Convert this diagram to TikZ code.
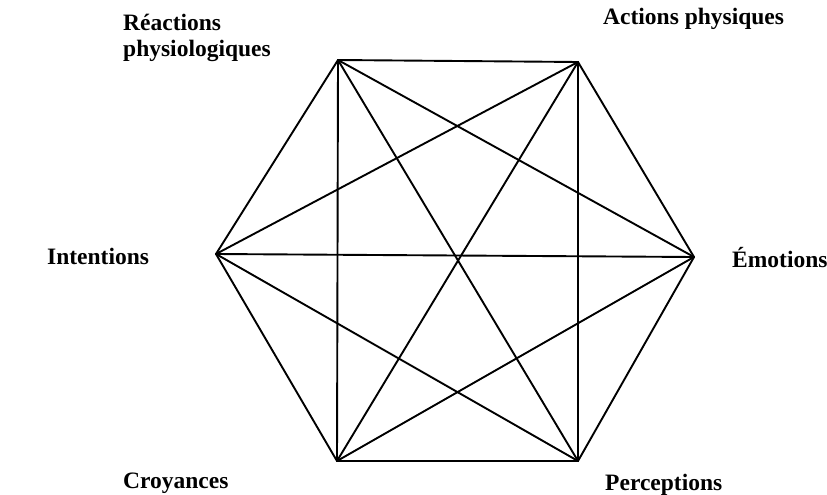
\documentclass[tikz,border=0pt]{standalone}
\usepackage{fontspec}
\setmainfont{Liberation Serif}
\begin{document}
\begin{tikzpicture}[x=1pt,y=-1pt,
  edge/.style={line width=1.9pt, line cap=round, line join=round},
  lbl/.style={font=\fontsize{23.5}{27}\selectfont\bfseries, inner sep=0pt, anchor=base west, align=left}]
\useasboundingbox (0,0) rectangle (827,495);
\coordinate (TL) at (338,60);
\coordinate (TR) at (578,62);
\coordinate (R) at (694,257);
\coordinate (BR) at (578,461);
\coordinate (BL) at (337,461);
\coordinate (L) at (216,254);
% hexagon
\draw[edge] (TL) -- (TR) -- (R) -- (BR) -- (BL) -- (L) -- cycle;
% diagonals
\foreach \a/\b in {TL/R, TL/BR, TL/BL, TR/BR, TR/BL, TR/L, R/BL, R/L, BR/L} {
  \draw[edge] (\a) -- (\b);
}
\node[lbl] (reac) at (123,57) {Réactions\\physiologiques};
\node[lbl] (act) at (603,25) {Actions physiques};
\node[lbl] (int) at (47,264) {Intentions};
\node[lbl] (emo) at (732,267) {Émotions};
\node[lbl] (cro) at (123,488) {Croyances};
\node[lbl] (per) at (605,490) {Perceptions};
\end{tikzpicture}
\end{document}
